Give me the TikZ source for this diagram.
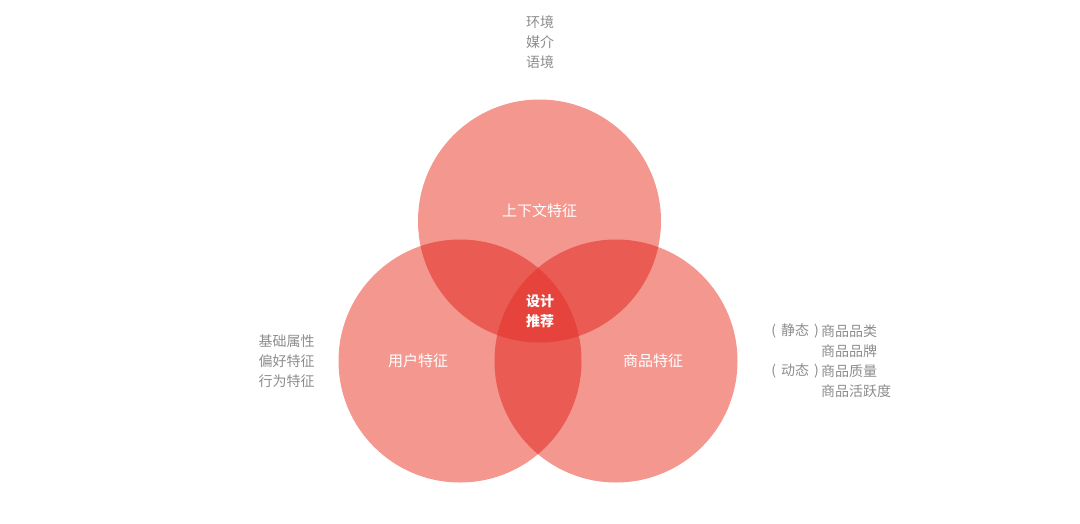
\documentclass[tikz,border=0pt]{standalone}
\usepackage{fontspec}
\newfontfamily\cjk{Noto Sans CJK SC}
\definecolor{vsingle}{HTML}{F4978F}
\definecolor{vdouble}{HTML}{E95B53}
\definecolor{vtriple}{HTML}{E5433B}
\definecolor{vnote}{HTML}{8C8C8C}
\tikzset{
  inner/.style={text=white, font=\cjk\fontsize{15}{20}\selectfont, inner sep=0pt},
  center/.style={text=white, font=\cjk\bfseries\fontsize{14}{20}\selectfont, inner sep=0pt, align=center},
  notes/.style={text=vnote, font=\cjk\fontsize{14}{20}\selectfont, inner sep=0pt, align=center}
}
\begin{document}
\begin{tikzpicture}[x=1pt,y=-1pt]
\useasboundingbox (0,0) rectangle (1080,523);
\def\R{121.5}
\coordinate (ct) at (539.5,221);
\coordinate (cl) at (460,361);
\coordinate (cr) at (616,361);
\fill[vsingle] (ct) circle (\R);
\fill[vsingle] (cl) circle (\R);
\fill[vsingle] (cr) circle (\R);
\begin{scope}
  \clip (ct) circle (\R);
  \fill[vdouble] (cl) circle (\R);
  \fill[vdouble] (cr) circle (\R);
\end{scope}
\begin{scope}
  \clip (cl) circle (\R);
  \fill[vdouble] (cr) circle (\R);
\end{scope}
\begin{scope}
  \clip (ct) circle (\R);
  \clip (cl) circle (\R);
  \fill[vtriple] (cr) circle (\R);
\end{scope}
\node[inner] (lt) at (539.5,211) {上下文特征};
\node[inner] (ll) at (418,361) {用户特征};
\node[inner] (lr) at (653,361) {商品特征};
\node[center] (lc) at (540,311) {设计\\推荐};
\node[notes] (nt) at (540,42) {环境\\媒介\\语境};
\node[notes] (nl) at (286.5,361) {基础属性\\偏好特征\\行为特征};
\node[notes, anchor=west] (r1) at (821,331) {商品品类};
\node[notes, anchor=west] (r2) at (821,351) {商品品牌};
\node[notes, anchor=west] (r3) at (821,371) {商品质量};
\node[notes, anchor=west] (r4) at (821,391) {商品活跃度};
\node[notes, anchor=east] (p1) at ([xshift=-2pt]r1.west) {(\hspace{5pt}静态\hspace{5pt})};
\node[notes, anchor=east] (p2) at ([xshift=-2pt]r3.west) {(\hspace{5pt}动态\hspace{5pt})};
\end{tikzpicture}
\end{document}
